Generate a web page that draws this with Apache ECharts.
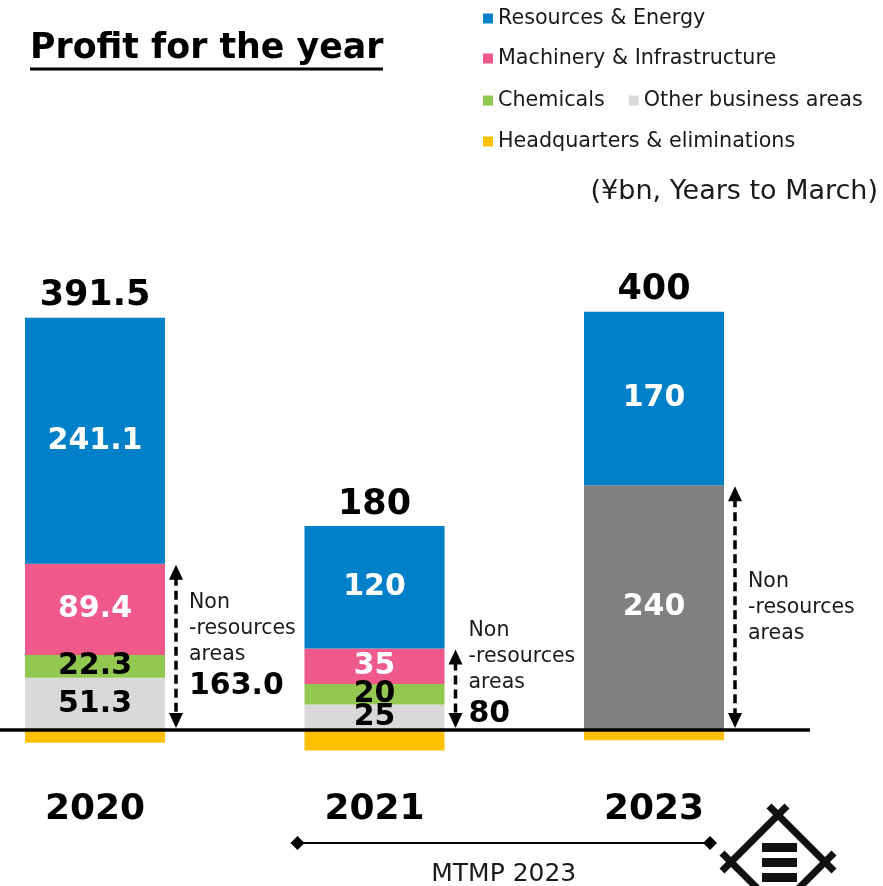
<!DOCTYPE html>
<html>
<head>
<meta charset="utf-8">
<script src="https://cdn.jsdelivr.net/npm/echarts@6/dist/echarts.min.js"></script>
<style>
  html, body { margin: 0; padding: 0; background: #fff; }
  #chart { width: 883px; height: 886px; }
</style>
</head>
<body>
<div id="chart"></div>
<script>
// data (¥bn, years to March)
const years = ['2020', '2021', '2023'];
const resources = [241.1, 120, 170];
const machinery = [89.4, 35, '-'];
const chemicals = [22.3, 20, '-'];
const otherAreas = [51.3, 25, '-'];
const nonResourcesPlan = ['-', '-', 240];
const headquarters = [-12.6, -20, -10];
const totalLabels = ['391.5', '180', '400'];
const nonResourcesTotal = [163.0, 80, 240];
const nonResourcesLabels = ['163.0', '80', ''];

const FONT = 'DejaVu Sans';
const num = v => (typeof v === 'number' ? v : 0);

// height of the positive stack, used to hang the total labels
const stackTops = years.map((_, i) =>
    num(resources[i]) + num(machinery[i]) + num(chemicals[i]) + num(otherAreas[i]) + num(nonResourcesPlan[i]));

// plot area: value -150..450 over 612px, zero line ends up at y=730
const Y_MIN = -150, Y_MAX = 450, GRID_TOP = 271, GRID_H = 612;
const zeroFromBottom = GRID_H * (0 - Y_MIN) / (Y_MAX - Y_MIN);

const chart = echarts.init(document.getElementById('chart'));

function segment(name, data, color, labelColor) {
    return {
        name: name,
        type: 'bar',
        stack: 'profit',
        data: data,
        barWidth: 140,
        itemStyle: { color: color },
        emphasis: { disabled: true },
        label: {
            show: !!labelColor,
            position: 'inside',
            color: labelColor,
            fontFamily: FONT,
            fontSize: 30,
            fontWeight: 'bold'
        }
    };
}

const legendBase = {
    left: 483,
    padding: 0,
    icon: 'rect',
    itemWidth: 10,
    itemHeight: 10,
    selectedMode: false,
    textStyle: { fontFamily: FONT, fontSize: 20.7, color: '#1a1a1a' }
};

chart.setOption({
    animation: false,
    grid: { left: -44.75, width: 838.5, top: GRID_TOP, height: GRID_H, outerBoundsMode: 'none', containLabel: false },
    legend: [
        Object.assign({ top: 8, data: ['Resources & Energy'] }, legendBase),
        Object.assign({ top: 48, data: ['Machinery & Infrastructure'] }, legendBase),
        Object.assign({ top: 90, itemGap: 24, data: ['Chemicals', 'Other business areas'] }, legendBase),
        Object.assign({ top: 131, data: ['Headquarters & eliminations'] }, legendBase)
    ],
    xAxis: {
        type: 'category',
        data: years,
        position: 'bottom',
        offset: -zeroFromBottom,
        axisLine: { show: false, onZero: false },
        axisTick: { show: false },
        axisLabel: {
            margin: 62,
            color: '#000',
            fontFamily: FONT,
            fontSize: 36,
            fontWeight: 'bold'
        }
    },
    yAxis: {
        type: 'value',
        min: Y_MIN,
        max: Y_MAX,
        show: false,
        splitLine: { show: false }
    },
    series: [
        segment('Other business areas', otherAreas, '#D9D9D9', '#000'),
        segment('Non-resources areas', nonResourcesPlan, '#808080', '#fff'),
        segment('Chemicals', chemicals, '#92C84F', '#000'),
        segment('Machinery & Infrastructure', machinery, '#EF5A8A', '#fff'),
        segment('Resources & Energy', resources, '#0080C8', '#fff'),
        segment('Headquarters & eliminations', headquarters, '#FFC000', null),
        {
            type: 'scatter',
            data: stackTops,
            symbolSize: 0,
            itemStyle: { color: '#000', opacity: 1 },
            silent: true,
            z: 5,
            label: {
                show: true,
                position: 'top',
                distance: 4,
                formatter: p => totalLabels[p.dataIndex],
                color: '#000',
                opacity: 1,
                fontFamily: FONT,
                fontSize: 35,
                fontWeight: 'bold'
            }
        }
    ]
});

// annotations drawn from the chart's own scales
const px = (cat, v) => chart.convertToPixel({ gridIndex: 0 }, [cat, v]);
const zeroY = px(years[0], 0)[1];
const textTopOffset = [-140, -112, -161];
const graphics = [];

// title with underline
graphics.push({
    type: 'text', x: 30, y: 49,
    style: { text: 'Profit for the year', fill: '#000', fontFamily: FONT, fontSize: 34.8, fontWeight: 'bold', verticalAlign: 'middle' }
});
graphics.push({
    type: 'line', shape: { x1: 30, y1: 69, x2: 383, y2: 69 },
    style: { stroke: '#000', lineWidth: 3 }
});
graphics.push({
    type: 'text', x: 878, y: 192,
    style: { text: '(¥bn, Years to March)', fill: '#1a1a1a', fontFamily: FONT, fontSize: 27, align: 'right', verticalAlign: 'middle' }
});

// zero line
graphics.push({
    type: 'line', z: 10, shape: { x1: 0, y1: zeroY, x2: 810, y2: zeroY },
    style: { stroke: '#000', lineWidth: 3.5 }
});

years.forEach((y, i) => {
    const cx = px(y, 0)[0];
    const ax = cx + 81;
    const topY = px(y, nonResourcesTotal[i])[1] + 1;
    const botY = zeroY - 2;
    graphics.push({
        type: 'line', z: 10, shape: { x1: ax, y1: topY + 12, x2: ax, y2: botY - 12 },
        style: { stroke: '#000', lineWidth: 3.5, lineDash: [9, 5] }
    });
    graphics.push({
        type: 'polygon', z: 10, shape: { points: [[ax, topY], [ax - 7, topY + 15], [ax + 7, topY + 15]] },
        style: { fill: '#000' }
    });
    graphics.push({
        type: 'polygon', z: 10, shape: { points: [[ax, botY], [ax - 7, botY - 15], [ax + 7, botY - 15]] },
        style: { fill: '#000' }
    });
    const tx = cx + 94;
    const ty = zeroY + textTopOffset[i];
    graphics.push({
        type: 'text', x: tx, y: ty,
        style: { text: 'Non\n-resources\nareas', fill: '#1a1a1a', fontFamily: FONT, fontSize: 20.5, lineHeight: 26, verticalAlign: 'top' }
    });
    if (nonResourcesLabels[i]) {
        graphics.push({
            type: 'text', x: tx, y: ty + 96,
            style: { text: nonResourcesLabels[i], fill: '#000', fontFamily: FONT, fontSize: 30, fontWeight: 'bold', verticalAlign: 'middle' }
        });
    }
});

// MTMP 2023 span
const mx1 = px(years[1], 0)[0] - 77;
const mx2 = px(years[2], 0)[0] + 56;
const my = 843;
graphics.push({ type: 'line', shape: { x1: mx1, y1: my, x2: mx2, y2: my }, style: { stroke: '#000', lineWidth: 2 } });
[mx1, mx2].forEach(x => graphics.push({
    type: 'polygon', shape: { points: [[x - 7, my], [x, my - 7], [x + 7, my], [x, my + 7]] }, style: { fill: '#000' }
}));
graphics.push({
    type: 'text', x: (mx1 + mx2) / 2, y: 874,
    style: { text: 'MTMP 2023', fill: '#1a1a1a', fontFamily: FONT, fontSize: 25, align: 'center', verticalAlign: 'middle' }
});

// logo
const logoLines = [
    [787, 806, 722, 871],
    [769, 806, 834, 871],
    [722, 853, 787, 918],
    [834, 853, 769, 918]
];
logoLines.forEach(l => graphics.push({
    type: 'line', shape: { x1: l[0], y1: l[1], x2: l[2], y2: l[3] }, style: { stroke: '#111', lineWidth: 7 }
}));
[843, 858, 873].forEach(y => graphics.push({
    type: 'rect', shape: { x: 762, y: y, width: 35, height: 9 }, style: { fill: '#111' }
}));

chart.setOption({ graphic: graphics });
</script>
</body>
</html>
